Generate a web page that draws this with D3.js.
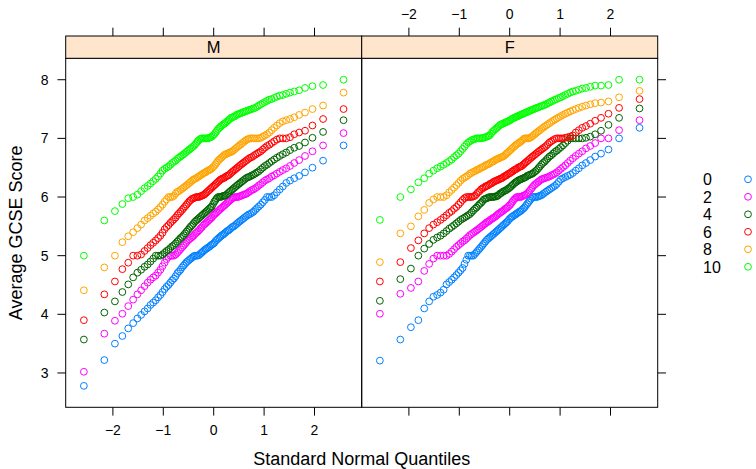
<html>
<head>
<title>GCSE score by A-level chemistry score</title>
<script src="https://cdn.jsdelivr.net/npm/d3@7"></script>
<style>
body { margin:0; background:#fff; }
text { font-family:'Liberation Sans', Arial, Helvetica, sans-serif; fill:#000; }
</style>
</head>
<body>
<svg id="chart" width="756" height="469"></svg>
<script>

var genders = ['M', 'F'];
var scores = ['0', '2', '4', '6', '8', '10'];
var colors = ['#0080ff', '#ff00ff', '#006400', '#ff0000', '#ffa500', '#00ff00'];
var yTicks = [3, 4, 5, 6, 7, 8];
var xTicks = [-2, -1, 0, 1, 2];

// 100 sample quantiles of gcsescore per group
var male0 = [2.78,3.22,3.50,3.63,3.76,3.85,3.93,3.99,4.05,4.10,4.16,4.20,4.24,4.29,4.33,4.38,4.43,4.47,4.50,4.54,
	4.58,4.61,4.65,4.70,4.73,4.76,4.80,4.83,4.86,4.89,4.91,4.93,4.95,4.97,4.99,5.00,5.00,5.00,5.01,5.03,
	5.05,5.07,5.09,5.11,5.12,5.14,5.15,5.17,5.19,5.20,5.22,5.25,5.27,5.29,5.31,5.33,5.35,5.36,5.38,5.40,
	5.42,5.43,5.45,5.47,5.49,5.50,5.52,5.54,5.56,5.58,5.60,5.62,5.64,5.66,5.68,5.70,5.71,5.73,5.75,5.78,
	5.81,5.84,5.87,5.91,5.95,6.00,6.00,6.00,6.03,6.08,6.13,6.18,6.24,6.28,6.32,6.36,6.42,6.50,6.62,6.88];
var male2 = [3.02,3.67,3.89,4.01,4.14,4.25,4.34,4.41,4.48,4.54,4.59,4.63,4.66,4.71,4.76,4.82,4.88,4.94,4.98,5.00,
	5.00,5.00,5.02,5.05,5.08,5.11,5.14,5.17,5.20,5.23,5.26,5.28,5.30,5.32,5.34,5.37,5.39,5.41,5.43,5.46,
	5.48,5.51,5.53,5.55,5.57,5.59,5.61,5.63,5.65,5.68,5.70,5.72,5.74,5.76,5.78,5.80,5.82,5.84,5.86,5.88,
	5.90,5.92,5.94,5.96,5.98,5.99,6.00,6.00,6.00,6.01,6.02,6.03,6.04,6.05,6.06,6.08,6.10,6.12,6.13,6.15,
	6.17,6.20,6.22,6.25,6.28,6.30,6.32,6.35,6.37,6.40,6.43,6.46,6.49,6.53,6.58,6.63,6.70,6.78,6.88,7.09];
var male4 = [3.57,4.03,4.22,4.38,4.51,4.63,4.71,4.76,4.81,4.85,4.90,4.95,5.00,5.00,5.00,5.02,5.05,5.08,5.10,5.13,
	5.16,5.18,5.21,5.24,5.27,5.30,5.32,5.35,5.38,5.41,5.44,5.47,5.50,5.52,5.55,5.58,5.60,5.62,5.64,5.66,
	5.68,5.70,5.72,5.74,5.76,5.78,5.80,5.82,5.84,5.88,5.92,5.95,5.98,6.00,6.00,6.00,6.01,6.02,6.02,6.03,
	6.05,6.07,6.09,6.11,6.13,6.15,6.17,6.19,6.21,6.23,6.25,6.27,6.29,6.31,6.33,6.34,6.35,6.37,6.38,6.40,
	6.42,6.44,6.47,6.50,6.53,6.55,6.58,6.61,6.64,6.67,6.70,6.73,6.76,6.80,6.84,6.87,6.93,7.01,7.11,7.31];
var male6 = [3.90,4.34,4.56,4.77,4.88,5.00,5.00,5.02,5.08,5.13,5.18,5.22,5.26,5.30,5.34,5.39,5.45,5.49,5.52,5.56,
	5.59,5.62,5.65,5.69,5.72,5.75,5.78,5.81,5.84,5.87,5.90,5.93,5.95,5.97,5.98,5.99,6.00,6.00,6.00,6.01,
	6.02,6.03,6.04,6.06,6.08,6.10,6.12,6.14,6.16,6.18,6.20,6.22,6.24,6.26,6.28,6.30,6.31,6.32,6.33,6.35,
	6.36,6.37,6.39,6.41,6.43,6.45,6.47,6.49,6.51,6.53,6.55,6.57,6.59,6.61,6.63,6.65,6.67,6.68,6.70,6.72,
	6.74,6.76,6.78,6.81,6.84,6.87,6.89,6.92,6.95,6.98,7.00,7.00,7.00,7.02,7.07,7.10,7.13,7.22,7.33,7.50];
var male8 = [4.41,4.80,5.00,5.23,5.33,5.40,5.47,5.53,5.60,5.64,5.68,5.72,5.75,5.79,5.83,5.87,5.92,5.96,6.00,6.00,
	6.00,6.02,6.06,6.09,6.10,6.12,6.14,6.16,6.18,6.20,6.22,6.24,6.26,6.28,6.30,6.31,6.32,6.34,6.35,6.37,
	6.38,6.40,6.41,6.42,6.44,6.45,6.46,6.47,6.49,6.51,6.53,6.56,6.59,6.62,6.64,6.66,6.68,6.70,6.72,6.73,
	6.74,6.75,6.76,6.77,6.78,6.80,6.82,6.84,6.86,6.88,6.90,6.92,6.94,6.96,6.98,6.99,7.00,7.00,7.00,7.00,
	7.00,7.00,7.01,7.03,7.05,7.07,7.10,7.14,7.18,7.22,7.26,7.29,7.31,7.33,7.36,7.40,7.44,7.50,7.56,7.78];
var male10 = [5.00,5.60,5.76,5.88,5.98,6.00,6.04,6.10,6.15,6.19,6.23,6.27,6.31,6.35,6.40,6.45,6.48,6.50,6.52,6.55,
	6.58,6.60,6.62,6.65,6.67,6.69,6.71,6.73,6.75,6.77,6.79,6.81,6.83,6.85,6.87,6.89,6.92,6.95,6.97,6.99,
	7.00,7.00,7.00,7.00,7.00,7.00,7.01,7.02,7.03,7.05,7.07,7.10,7.13,7.16,7.18,7.20,7.22,7.24,7.25,7.27,
	7.29,7.31,7.33,7.35,7.36,7.37,7.38,7.40,7.41,7.42,7.43,7.44,7.45,7.46,7.47,7.48,7.49,7.50,7.51,7.52,
	7.54,7.56,7.58,7.60,7.62,7.64,7.66,7.67,7.69,7.71,7.73,7.74,7.76,7.78,7.80,7.82,7.86,7.89,7.91,8.00];

var female0 = [3.21,3.57,3.78,3.90,4.10,4.22,4.30,4.33,4.37,4.42,4.51,4.55,4.59,4.63,4.67,4.71,4.75,4.79,4.86,4.93,
	5.00,5.00,5.00,5.00,5.03,5.06,5.09,5.12,5.15,5.18,5.21,5.24,5.27,5.29,5.31,5.33,5.35,5.37,5.39,5.41,
	5.43,5.45,5.47,5.49,5.51,5.53,5.55,5.57,5.59,5.62,5.64,5.66,5.67,5.69,5.70,5.72,5.73,5.75,5.76,5.78,
	5.80,5.82,5.85,5.88,5.91,5.94,5.97,6.00,6.00,6.00,6.00,6.01,6.02,6.03,6.05,6.07,6.09,6.11,6.13,6.15,
	6.17,6.19,6.22,6.26,6.30,6.32,6.34,6.36,6.38,6.41,6.45,6.49,6.54,6.58,6.63,6.69,6.74,6.81,7.00,7.18];
var female2 = [4.01,4.35,4.45,4.56,4.74,4.86,4.95,5.00,5.00,5.00,5.00,5.03,5.07,5.11,5.15,5.18,5.21,5.24,5.26,5.29,
	5.32,5.35,5.37,5.39,5.41,5.43,5.45,5.47,5.49,5.51,5.53,5.55,5.57,5.58,5.60,5.62,5.63,5.65,5.66,5.68,
	5.70,5.72,5.73,5.75,5.76,5.78,5.80,5.81,5.83,5.85,5.87,5.90,5.93,5.96,5.98,6.00,6.00,6.00,6.00,6.01,
	6.02,6.03,6.04,6.06,6.08,6.11,6.14,6.17,6.20,6.22,6.24,6.26,6.28,6.30,6.31,6.32,6.33,6.34,6.35,6.37,
	6.38,6.40,6.42,6.45,6.48,6.51,6.54,6.58,6.62,6.66,6.70,6.74,6.78,6.83,6.87,6.92,7.00,7.00,7.14,7.31];
var female4 = [4.23,4.60,4.78,5.00,5.12,5.20,5.27,5.31,5.34,5.38,5.42,5.46,5.49,5.52,5.55,5.58,5.61,5.63,5.65,5.67,
	5.69,5.71,5.74,5.77,5.80,5.82,5.85,5.88,5.90,5.93,5.96,5.97,5.98,5.99,6.00,6.00,6.00,6.00,6.01,6.01,
	6.02,6.04,6.06,6.07,6.09,6.10,6.11,6.12,6.14,6.15,6.17,6.19,6.21,6.23,6.25,6.26,6.28,6.29,6.30,6.31,
	6.32,6.33,6.34,6.36,6.37,6.38,6.39,6.40,6.42,6.44,6.46,6.49,6.52,6.55,6.58,6.60,6.63,6.66,6.69,6.71,
	6.74,6.77,6.79,6.82,6.85,6.88,6.92,6.96,7.00,7.00,7.00,7.00,7.00,7.01,7.03,7.07,7.13,7.23,7.35,7.51];
var female6 = [4.56,4.89,5.13,5.26,5.38,5.47,5.53,5.57,5.61,5.65,5.69,5.73,5.76,5.80,5.83,5.87,5.91,5.95,5.98,6.00,
	6.00,6.00,6.00,6.01,6.02,6.05,6.08,6.10,6.13,6.15,6.16,6.18,6.19,6.20,6.22,6.23,6.24,6.26,6.27,6.28,
	6.29,6.30,6.31,6.32,6.33,6.35,6.36,6.37,6.39,6.40,6.41,6.43,6.44,6.46,6.47,6.48,6.50,6.51,6.52,6.53,
	6.55,6.57,6.59,6.61,6.63,6.65,6.67,6.69,6.71,6.73,6.75,6.77,6.79,6.81,6.83,6.85,6.87,6.90,6.93,6.95,
	6.97,6.99,7.00,7.00,7.00,7.00,7.01,7.02,7.03,7.05,7.10,7.14,7.18,7.21,7.25,7.30,7.35,7.42,7.52,7.67];
var female8 = [4.89,5.38,5.50,5.67,5.78,5.90,5.96,6.00,6.00,6.00,6.03,6.08,6.12,6.16,6.20,6.24,6.28,6.31,6.33,6.35,
	6.37,6.40,6.41,6.43,6.44,6.46,6.47,6.48,6.50,6.51,6.52,6.54,6.55,6.56,6.57,6.59,6.60,6.61,6.63,6.64,
	6.65,6.66,6.67,6.68,6.69,6.70,6.72,6.74,6.76,6.78,6.80,6.82,6.84,6.86,6.88,6.90,6.91,6.93,6.94,6.96,
	6.98,7.00,7.00,7.00,7.00,7.01,7.02,7.04,7.06,7.08,7.10,7.12,7.14,7.16,7.18,7.20,7.22,7.24,7.26,7.28,
	7.30,7.32,7.34,7.36,7.38,7.40,7.42,7.44,7.46,7.48,7.50,7.52,7.54,7.56,7.58,7.60,7.61,7.63,7.70,7.81];
var female10 = [5.61,6.00,6.13,6.25,6.32,6.40,6.45,6.49,6.52,6.55,6.58,6.61,6.64,6.68,6.71,6.74,6.78,6.82,6.86,6.90,
	6.93,6.95,6.97,6.98,6.99,7.00,7.00,7.00,7.00,7.01,7.01,7.02,7.03,7.04,7.05,7.08,7.11,7.13,7.15,7.17,
	7.19,7.21,7.23,7.24,7.25,7.26,7.27,7.28,7.29,7.30,7.31,7.33,7.34,7.35,7.36,7.37,7.38,7.39,7.40,7.41,
	7.42,7.43,7.44,7.45,7.46,7.47,7.48,7.49,7.50,7.51,7.52,7.53,7.54,7.55,7.56,7.57,7.58,7.60,7.61,7.63,
	7.64,7.66,7.67,7.69,7.70,7.72,7.74,7.76,7.78,7.80,7.81,7.83,7.85,7.86,7.88,7.90,7.90,7.91,8.00,8.00];

var samples = {
	M: [male0, male2, male4, male6, male8, male10],
	F: [female0, female2, female4, female6, female8, female10]
};

// inverse standard normal cdf (Acklam)
function qnorm(p) {
	var a = [-39.69683028665376, 220.9460984245205, -275.9285104469687, 138.3577518672690, -30.66479806614716, 2.506628277459239];
	var b = [-54.47609879822406, 161.5858368580409, -155.6989798598866, 66.80131188771972, -13.28068155288572];
	var c = [-0.007784894002430293, -0.3223964580411365, -2.400758277161838, -2.549732539343734, 4.374664141464968, 2.938163982698783];
	var d = [0.007784695709041462, 0.3224671290700398, 2.445134137142996, 3.754408661907416];
	var q, r;
	if (p < 0.02425) {
		q = Math.sqrt(-2 * Math.log(p));
		return (((((c[0]*q+c[1])*q+c[2])*q+c[3])*q+c[4])*q+c[5]) / ((((d[0]*q+d[1])*q+d[2])*q+d[3])*q+1);
	}
	if (p > 1 - 0.02425) return -qnorm(1 - p);
	q = p - 0.5; r = q * q;
	return (((((a[0]*r+a[1])*r+a[2])*r+a[3])*r+a[4])*r+a[5])*q / (((((b[0]*r+b[1])*r+b[2])*r+b[3])*r+b[4])*r+1);
}

// ppoints(n): (i - 0.5) / n
function theoretical(n, i) { return qnorm((i + 0.5) / n); }

function extend(lim) {
	var pad = (lim[1] - lim[0]) * 0.07;
	return [lim[0] - pad, lim[1] + pad];
}

var svg = d3.select('#chart');

var left = 65.7, panelW = 296, panelTop = 58.3, panelH = 349, stripH = 22.3, tick = 8.3;

var allY = [];
genders.forEach(function(g) { samples[g].forEach(function(s) { allY = allY.concat(s); }); });
var xlim = extend([theoretical(100, 0), theoretical(100, 99)]);
var ylim = extend(d3.extent(allY));

var x = d3.scaleLinear().domain(xlim).range([0, panelW]);
var y = d3.scaleLinear().domain(ylim).range([panelH, 0]);

genders.forEach(function(g, gi) {
	var px = left + gi * panelW;
	var panel = svg.append('g').attr('transform', 'translate(' + px + ',' + panelTop + ')');

	// strip
	svg.append('rect')
		.attr('x', px).attr('y', panelTop - stripH)
		.attr('width', panelW).attr('height', stripH)
		.attr('fill', '#ffe5cc').attr('stroke', '#000').attr('stroke-width', 1);
	svg.append('text')
		.text(g)
		.attr('x', px + panelW / 2).attr('y', panelTop - stripH / 2)
		.attr('dy', '0.36em')
		.attr('text-anchor', 'middle')
		.style('font-size', '16.5px');

	samples[g].forEach(function(s, si) {
		panel.selectAll('.pt' + si)
			.data(s)
			.enter()
			.append('circle')
			.attr('cx', function(d, i) { return x(theoretical(s.length, i)); })
			.attr('cy', function(d) { return y(d); })
			.attr('r', 3.4)
			.attr('fill', 'none')
			.attr('stroke', colors[si])
			.attr('stroke-width', 1);
	});

	panel.append('rect')
		.attr('width', panelW).attr('height', panelH)
		.attr('fill', 'none').attr('stroke', '#000').attr('stroke-width', 1);

	// x ticks: labels below on M, above (over the strip) on F
	var top = gi == 1;
	xTicks.forEach(function(t) {
		var tx = px + x(t);
		svg.append('line')
			.attr('x1', tx).attr('x2', tx)
			.attr('y1', panelTop + panelH).attr('y2', panelTop + panelH + tick)
			.attr('stroke', '#000');
		svg.append('line')
			.attr('x1', tx).attr('x2', tx)
			.attr('y1', panelTop - stripH).attr('y2', panelTop - stripH - tick)
			.attr('stroke', '#000');
		svg.append('text')
			.text(t < 0 ? '\u2212' + Math.abs(t) : t)
			.attr('x', tx)
			.attr('y', top ? 19 : 435)
			.attr('text-anchor', 'middle')
			.style('font-size', '14px');
	});
});

yTicks.forEach(function(t) {
	var ty = panelTop + y(t);
	svg.append('line')
		.attr('x1', left - tick).attr('x2', left)
		.attr('y1', ty).attr('y2', ty)
		.attr('stroke', '#000');
	svg.append('line')
		.attr('x1', left + 2 * panelW).attr('x2', left + 2 * panelW + tick)
		.attr('y1', ty).attr('y2', ty)
		.attr('stroke', '#000');
	svg.append('text')
		.text(t)
		.attr('x', 48.5).attr('y', ty)
		.attr('dy', '0.36em')
		.attr('text-anchor', 'end')
		.style('font-size', '14px');
});

svg.append('text')
	.text('Standard Normal Quantiles')
	.attr('x', left + panelW)
	.attr('y', 465)
	.attr('text-anchor', 'middle')
	.style('font-size', '18px');

svg.append('text')
	.text('Average GCSE Score')
	.attr('transform', 'translate(22,' + (panelTop + panelH / 2) + ') rotate(-90)')
	.attr('text-anchor', 'middle')
	.style('font-size', '18px');

// legend
var legend = svg.selectAll('.key')
	.data(scores)
	.enter()
	.append('g')
	.attr('transform', function(d, i) { return 'translate(0,' + (179.3 + i * 17.5) + ')'; });

legend.append('text')
	.text(function(d) { return d; })
	.attr('x', 703)
	.attr('dy', '0.36em')
	.style('font-size', '16px');

legend.append('circle')
	.attr('cx', 748)
	.attr('r', 3.4)
	.attr('fill', 'none')
	.attr('stroke', function(d, i) { return colors[i]; });

</script>
</body>
</html>
